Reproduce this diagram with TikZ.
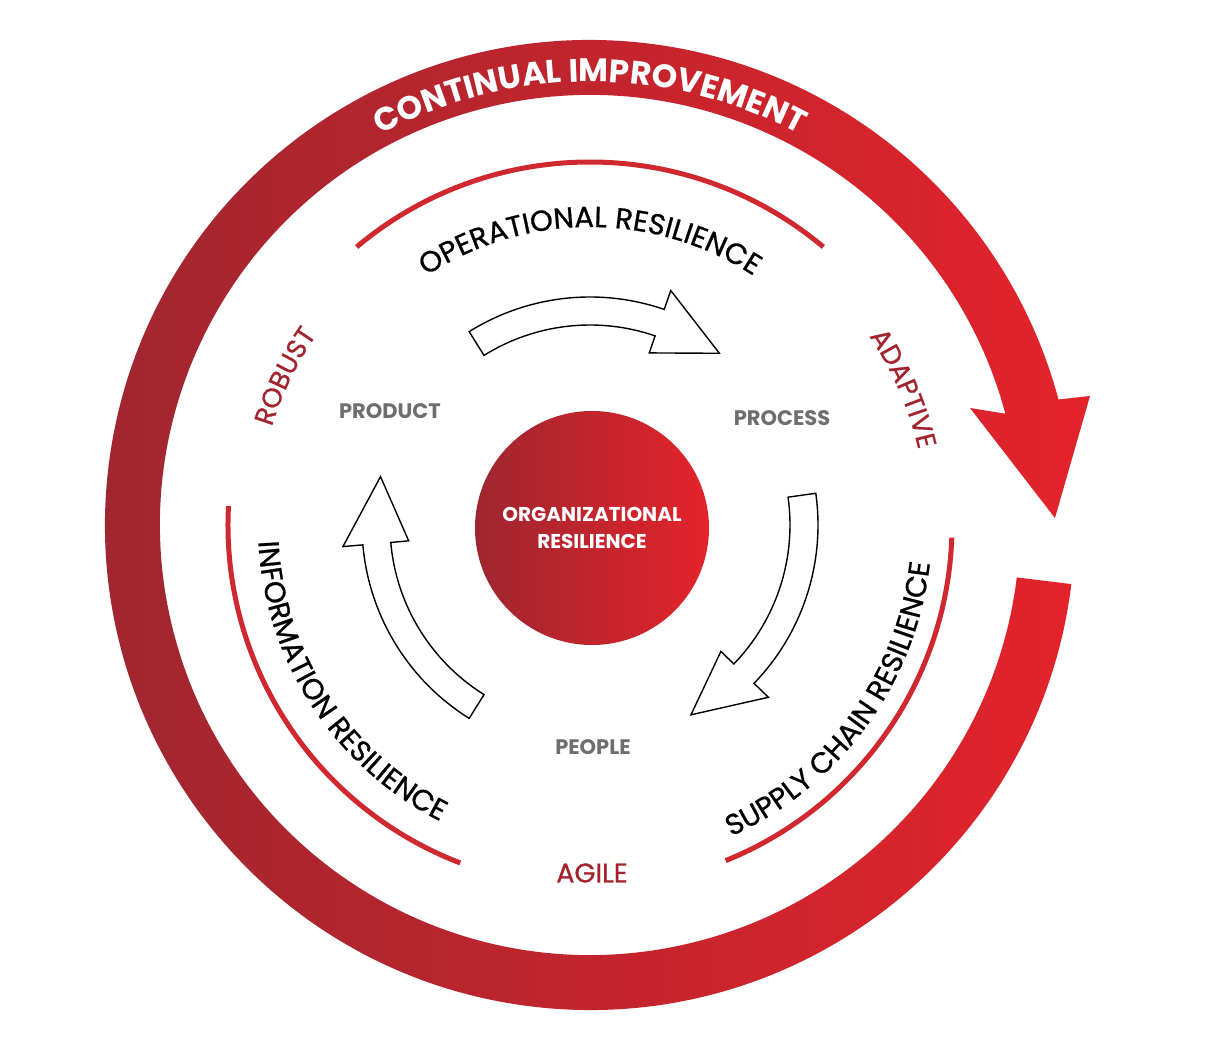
\documentclass[tikz,border=0pt]{standalone}
\usepackage{fontspec}
\setmainfont{Poppins}
\newfontfamily\medfont[FakeBold=0.8]{Poppins}
\usetikzlibrary{decorations.text}
\definecolor{dk}{HTML}{9E2630}
\definecolor{br}{HTML}{E4232A}
\definecolor{arcred}{HTML}{D0282F}
\definecolor{txtred}{HTML}{A3232D}
\definecolor{gr}{HTML}{6D6E70}
\tikzset{
  thinarc/.style={draw=arcred,line width=5pt},
  hollow/.style={draw=black,fill=white,line width=1.4pt,line join=miter},
  gray label/.style={text=gr,font=\bfseries\fontsize{21}{24}\selectfont},
}
\begin{document}
\begin{tikzpicture}
\useasboundingbox[fill=white] (-590pt,-532pt) rectangle (623pt,525pt);
% big ring
\shade[left color=dk,right color=br]
  (-7:485pt) arc[start angle=-7,end angle=-345,radius=485pt]
  -- (500pt,129pt) -- (465pt,7pt) -- (380pt,117pt)
  -- (15:430pt) arc[start angle=15,end angle=353,radius=430pt] -- cycle;
\path[decorate,decoration={text along path,text align=center,
  text={|\color{white}\bfseries\fontsize{32.5}{34}\selectfont|CONTINUAL IMPROVEMENT}}]
  (150:443pt) arc[start angle=150,end angle=30,radius=443pt];
% thin arcs
\draw[thinarc] (130:363pt) arc[start angle=130,end angle=50,radius=363pt];
\draw[thinarc] (177:362pt) arc[start angle=177,end angle=249,radius=362pt];
\draw[thinarc] (-68:362pt) arc[start angle=-68,end angle=-2,radius=362pt];
% curved labels
\path[decorate,decoration={text along path,text align=center,
  text={|\medfont\fontsize{29}{30}\selectfont|OPERATIONAL RESILIENCE}}]
  (130:298pt) arc[start angle=130,end angle=50,radius=298pt];
\path[decorate,decoration={text along path,text align=center,
  text={|\medfont\fontsize{29}{30}\selectfont|INFORMATION RESILIENCE}}]
  (175:332pt) arc[start angle=175,end angle=251,radius=332pt];
\path[decorate,decoration={text along path,text align=center,
  text={|\medfont\fontsize{29}{30}\selectfont|SUPPLY CHAIN RESILIENCE}}]
  (-74:342pt) arc[start angle=-74,end angle=2,radius=342pt];
\path[decorate,decoration={text along path,text align=center,
  text={|\color{txtred}\medfont\fontsize{27}{28}\selectfont|ROBUST}}]
  (170:333pt) arc[start angle=170,end angle=138,radius=333pt];
\path[decorate,decoration={text along path,text align=center,
  text={|\color{txtred}\medfont\fontsize{27}{28}\selectfont|ADAPTIVE}}]
  (41:337pt) arc[start angle=41,end angle=6,radius=337pt];
\node[text=txtred,font=\medfont\fontsize{27}{28}\selectfont] (agile) at (2pt,-348pt) {AGILE};
% gray labels
\node[gray label] (product) at (-200pt,114pt) {PRODUCT};
\node[gray label] (process) at (192pt,107pt) {PROCESS};
\node[gray label] (people) at (3pt,-222pt) {PEOPLE};
% hollow arrows
\draw[hollow] (122:200pt) arc[start angle=122,end angle=71,radius=200pt]
  -- (71:182pt) -- (53:215pt) -- (71:248pt) -- (71:228pt)
  arc[start angle=71,end angle=122,radius=228pt] -- cycle;
\draw[hollow] (8:200pt) arc[start angle=8,end angle=-44,radius=200pt]
  -- (-44:182pt) -- (-62:215pt) -- (-44:248pt) -- (-44:228pt)
  arc[start angle=-44,end angle=8,radius=228pt] -- cycle;
\draw[hollow] (238:200pt) arc[start angle=238,end angle=185,radius=200pt]
  -- (185:182pt) -- (167:215pt) -- (185:248pt) -- (185:228pt)
  arc[start angle=185,end angle=238,radius=228pt] -- cycle;
% center circle
\shade[left color=dk,right color=br] (2pt,-3pt) circle[radius=117pt];
\node[text=white,align=center,font=\bfseries\fontsize{20}{27}\selectfont] (org) at (2pt,-3pt)
  {ORGANIZATIONAL\\RESILIENCE};
\end{tikzpicture}
\end{document}
